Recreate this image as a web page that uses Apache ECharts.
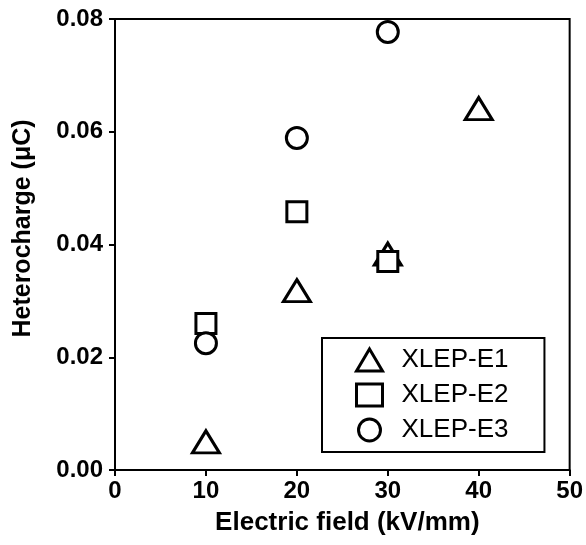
<!DOCTYPE html>
<html>
<head>
<meta charset="utf-8">
<script src="https://cdn.jsdelivr.net/npm/echarts@6/dist/echarts.min.js"></script>
<style>html,body{margin:0;padding:0;background:#fff;}#c{width:586px;height:545px;}</style>
</head>
<body>
<div id="c"></div>
<script>
const xE1 = [10, 20, 30, 40];
const yE1 = [0.005, 0.0318, 0.0383, 0.0641];
const xE2 = [10, 20, 30];
const yE2 = [0.026, 0.0458, 0.037];
const xE3 = [10, 20, 30];
const yE3 = [0.0225, 0.0589, 0.0777];
const xTicks = [0, 10, 20, 30, 40, 50];
const yTicks = [0.00, 0.02, 0.04, 0.06, 0.08];
const names = ['XLEP-E1', 'XLEP-E2', 'XLEP-E3'];

const pair = (xs, ys) => xs.map((x, i) => [x, ys[i]]);
const font = 'Arial, "Liberation Sans", sans-serif';
const chart = echarts.init(document.getElementById('c'), null, {renderer: 'canvas'});
const mk = (name, data, symbol, size) => ({
  name, type: 'scatter', data, symbol, symbolSize: size,
  itemStyle: {color: '#fff', borderColor: '#000', borderWidth: 3, opacity: 1},
  emphasis: {disabled: true}
});
chart.setOption({
  animation: false,
  backgroundColor: '#fff',
  grid: {left: 115, right: 16, top: 19, bottom: 75, show: true, borderColor: '#000', borderWidth: 2, backgroundColor: 'transparent'},
  xAxis: {
    type: 'value', min: xTicks[0], max: xTicks[xTicks.length - 1], interval: 10,
    name: 'Electric field (kV/mm)', nameLocation: 'middle', nameGap: 40,
    nameTextStyle: {fontFamily: font, fontWeight: 'bold', fontSize: 26, color: '#000', padding: [0, 0, 0, 10]},
    axisLine: {lineStyle: {color: '#000', width: 2}},
    axisTick: {show: true, length: 6, lineStyle: {color: '#000', width: 2}},
    axisLabel: {fontFamily: font, fontWeight: 'bold', fontSize: 24, color: '#000', margin: 9},
    splitLine: {show: false}
  },
  yAxis: {
    type: 'value', min: yTicks[0], max: yTicks[yTicks.length - 1], interval: 0.02,
    name: 'Heterocharge (μC)', nameLocation: 'middle', nameGap: 79,
    nameTextStyle: {fontFamily: font, fontWeight: 'bold', fontSize: 25, color: '#000', padding: [0, 0, 0, 32]},
    axisLine: {lineStyle: {color: '#000', width: 2}},
    axisTick: {show: true, length: 6, lineStyle: {color: '#000', width: 2}},
    axisLabel: {fontFamily: font, fontWeight: 'bold', fontSize: 24, color: '#000', margin: 12,
      formatter: v => v.toFixed(2)},
    splitLine: {show: false}
  },
  legend: {
    orient: 'vertical', left: 322, top: 338,
    data: names,
    itemWidth: 26, itemHeight: 22, itemGap: 9,
    padding: [9, 36, 9, 33],
    borderColor: '#000', borderWidth: 2,
    itemStyle: {borderWidth: 3, borderColor: '#000', color: '#fff'},
    textStyle: {fontFamily: font, fontSize: 26, color: '#000', padding: [0, 0, 0, 14]},
    selectedMode: false
  },
  series: [
    mk(names[0], pair(xE1, yE1), 'triangle', [27, 22]),
    mk(names[1], pair(xE2, yE2), 'rect', [20, 20]),
    mk(names[2], pair(xE3, yE3), 'circle', 21)
  ]
});
</script>
</body>
</html>
